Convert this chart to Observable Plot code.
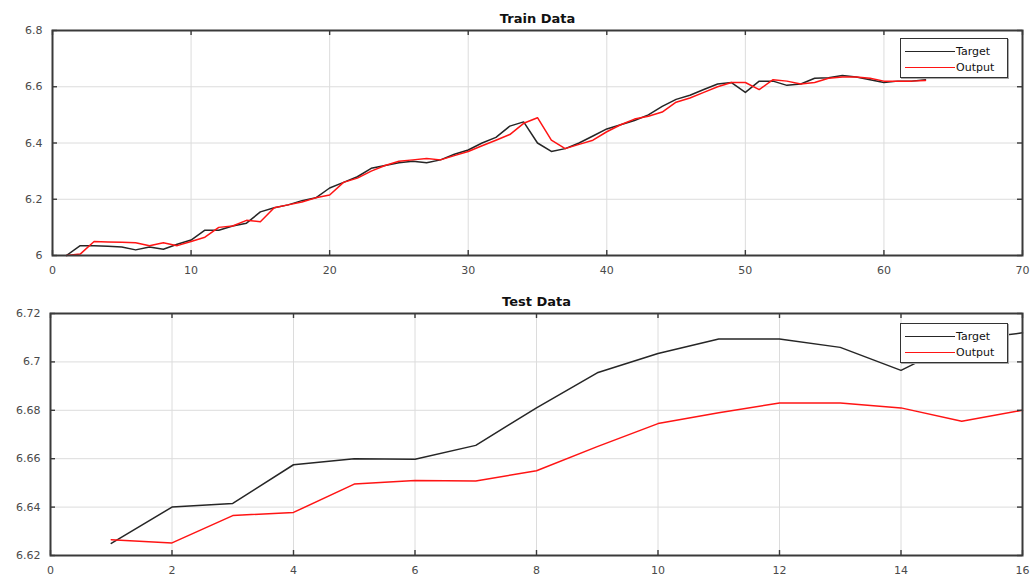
<!DOCTYPE html>
<html><head><meta charset="utf-8">
<script src="https://cdn.jsdelivr.net/npm/d3@7"></script>
<script src="https://cdn.jsdelivr.net/npm/@observablehq/plot@0.6"></script>
<style>
body{margin:0;background:#fff;}
#wrap{position:relative;width:1030px;height:578px;overflow:hidden;}
.panel{position:absolute;left:0;width:1030px;}
.legend{position:absolute;border:1px solid #333;background:#fff;box-shadow:1px 1px 0 #aaa;box-sizing:border-box;}
.row{position:absolute;left:0;height:14px;display:flex;align-items:center;font-family:"DejaVu Sans",sans-serif;font-size:11px;color:#111;}
.row span.sw{display:inline-block;width:50px;height:0;border-top:1.6px solid;margin-left:4px;margin-right:1px;}
</style></head><body><div id="wrap"></div>
<script>
// ---- data ----
const trainTarget = [6.000,6.035,6.035,6.033,6.030,6.020,6.030,6.022,6.040,6.055,
  6.090,6.090,6.105,6.115,6.155,6.170,6.180,6.195,6.205,6.240,
  6.260,6.280,6.310,6.320,6.330,6.335,6.330,6.340,6.360,6.375,
  6.400,6.420,6.460,6.475,6.400,6.370,6.380,6.400,6.425,6.450,
  6.465,6.480,6.500,6.530,6.555,6.570,6.590,6.610,6.615,6.580,
  6.620,6.620,6.605,6.610,6.630,6.632,6.640,6.635,6.625,6.615,
  6.620,6.620,6.625];
const trainOutput = [6.000,6.005,6.050,6.048,6.047,6.045,6.035,6.045,6.035,6.050,
  6.065,6.100,6.105,6.125,6.120,6.170,6.180,6.190,6.205,6.215,
  6.260,6.275,6.300,6.320,6.335,6.340,6.345,6.340,6.355,6.370,
  6.390,6.410,6.430,6.470,6.490,6.410,6.380,6.395,6.410,6.440,
  6.465,6.485,6.495,6.510,6.545,6.560,6.580,6.600,6.615,6.615,
  6.590,6.625,6.620,6.610,6.615,6.630,6.635,6.635,6.630,6.620,
  6.620,6.620,6.622];
const testTarget = [6.6250,6.6400,6.6415,6.6575,6.6600,6.6598,6.6655,6.6810,
  6.6955,6.7035,6.7095,6.7095,6.7060,6.6965,6.7090,6.7120];
const testOutput = [6.6265,6.6252,6.6365,6.6378,6.6495,6.6510,6.6508,6.6550,
  6.6650,6.6745,6.6790,6.6830,6.6830,6.6810,6.6755,6.6800];
const seriesNames = ["Target","Output"];
const seriesColors = ["#262626","#ff1414"];
const trainXTicks = [0,10,20,30,40,50,60,70];
const trainYTicks = [6,6.2,6.4,6.6,6.8];
const testXTicks = [0,2,4,6,8,10,12,14,16];
const testYTicks = [6.62,6.64,6.66,6.68,6.7,6.72];

function toRows(target, output){
  const rows=[];
  target.forEach((v,i)=>rows.push({x:i+1,y:v,s:seriesNames[0]}));
  output.forEach((v,i)=>rows.push({x:i+1,y:v,s:seriesNames[1]}));
  return rows;
}
const fmt = d => String(+d.toFixed(3));

function panel(o){
  const plotH = o.height - o.mt - o.mb, plotW = 1030 - o.ml - o.mr, tk = 5;
  const frameColor = "#3a3a3a";
  const plot = Plot.plot({
    width:1030, height:o.height,
    marginTop:o.mt, marginBottom:o.mb, marginLeft:o.ml, marginRight:o.mr,
    style:{fontFamily:"DejaVu Sans, sans-serif", fontSize:"11px", color:"#4a4a4a", background:"transparent"},
    x:{domain:o.xDomain, label:null}, y:{domain:o.yDomain, label:null},
    color:{domain:seriesNames, range:seriesColors},
    marks:[
      Plot.gridX({ticks:o.xTicks, stroke:"#dcdcdc", strokeOpacity:1}),
      Plot.gridY({ticks:o.yTicks, stroke:"#dcdcdc", strokeOpacity:1}),
      Plot.line(o.rows,{x:"x", y:"y", z:"s", stroke:"s", strokeWidth:1.5}),
      Plot.ruleX(o.xTicks,{insetTop:plotH-tk, stroke:frameColor, strokeWidth:1.4}),
      Plot.ruleX(o.xTicks,{insetBottom:plotH-tk, stroke:frameColor, strokeWidth:1.4}),
      Plot.ruleY(o.yTicks,{insetRight:plotW-tk, stroke:frameColor, strokeWidth:1.4}),
      Plot.ruleY(o.yTicks,{insetLeft:plotW-tk, stroke:frameColor, strokeWidth:1.4}),
      Plot.frame({stroke:frameColor, strokeWidth:2}),
      Plot.axisX({ticks:o.xTicks, tickSize:0, tickPadding:11, tickFormat:fmt, fill:"#4a4a4a", label:null}),
      Plot.axisY({ticks:o.yTicks, tickSize:0, tickPadding:10, tickFormat:fmt, fill:"#4a4a4a", label:null}),
      Plot.text([o.title],{text:d=>d, frameAnchor:"top", dy:-17, fontWeight:"bold", fontSize:13, fill:"#111"})
    ]
  });
  const div = document.createElement("div");
  div.className="panel"; div.style.top=o.top+"px"; div.style.height=o.height+"px";
  div.appendChild(plot);
  // legend
  const lg = document.createElement("div");
  lg.className="legend";
  lg.style.left=o.legend[0]+"px"; lg.style.top=o.legend[1]+"px";
  lg.style.width="108px"; lg.style.height="40px";
  seriesNames.forEach((n,i)=>{
    const r=document.createElement("div");
    r.className="row"; r.style.top=(5+i*16)+"px";
    const sw=document.createElement("span"); sw.className="sw"; sw.style.borderTopColor=seriesColors[i];
    const t=document.createElement("span"); t.textContent=n;
    r.appendChild(sw); r.appendChild(t); lg.appendChild(r);
  });
  div.appendChild(lg);
  document.getElementById("wrap").appendChild(div);
}

panel({title:"Train Data", rows:toRows(trainTarget,trainOutput), xDomain:[0,70], yDomain:[6,6.8],
  xTicks:trainXTicks, yTicks:trainYTicks, top:0, height:289, mt:30, mb:34, ml:52, mr:8, legend:[900,38]});
panel({title:"Test Data", rows:toRows(testTarget,testOutput), xDomain:[0,16], yDomain:[6.62,6.72],
  xTicks:testXTicks, yTicks:testYTicks, top:289, height:289, mt:24, mb:23, ml:50, mr:8, legend:[900,34]});
</script></body></html>
